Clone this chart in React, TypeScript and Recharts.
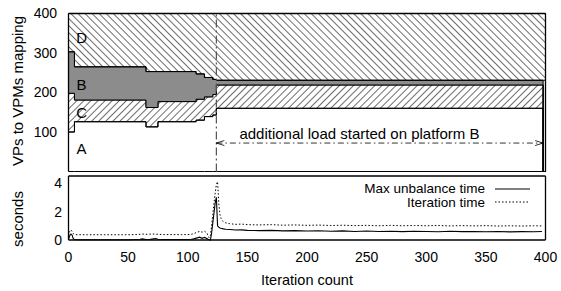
import React from 'react';
import {
  ComposedChart,
  LineChart,
  Area,
  Line,
  XAxis,
  YAxis,
  ReferenceLine,
  ReferenceDot,
  Legend,
} from 'recharts';

const FONT = '"Liberation Sans", Arial, Helvetica, sans-serif';

// ---------- Top panel: VP -> VPM mapping (boundaries between regions, step changes) ----------
const mapIter = [0, 5, 65, 75, 107, 114, 121, 124, 398, 400];
const aTop = [100, 126, 113, 126, 130, 139, 143, 160, 0, 0];
const cTop = [198, 181, 162, 177, 183, 189, 195, 219, 0, 0];
const bTop = [303, 265, 253, 253, 247, 238, 233, 231, 0, 0];
const dBottom = [303, 265, 253, 253, 247, 238, 233, 231, 231, 231];
const mapMax = 400;
const mapTicks = [50, 100, 150, 200, 250, 300, 350, 400];

const regionLabels = [
  { name: 'D', iter: 11, value: 338 },
  { name: 'B', iter: 11, value: 219 },
  { name: 'C', iter: 11, value: 148 },
  { name: 'A', iter: 11, value: 57 },
];

const loadStartIter = 124;
const loadEndIter = 398;
const arrowLevel = 72;
const annotation = 'additional load started on platform B';

// ---------- Bottom panel: times in seconds ----------
const timeIter = [
  0, 1, 2, 3, 4, 5, 8, 12, 16, 20, 25, 30, 35, 40, 45, 50, 55, 60, 62, 65, 68, 70, 73, 75, 78, 80,
  85, 90, 95, 100, 103, 105, 108, 110, 112, 114, 116, 117, 118, 119, 120, 121, 122, 123, 124, 125,
  126, 127, 128, 129, 130, 132, 135, 138, 140, 145, 150, 160, 170, 180, 190, 200, 210, 220, 230,
  240, 250, 260, 270, 280, 290, 300, 310, 320, 330, 340, 350, 360, 370, 380, 390, 397,
];
const maxUnbalance = [
  0.05, 0.3, 0.42, 0.35, 0.1, 0.03, 0.02, 0.02, 0.02, 0.02, 0.02, 0.02, 0.02, 0.02, 0.02, 0.02, 0.03,
  0.05, 0.08, 0.04, 0.03, 0.06, 0.1, 0.05, 0.03, 0.03, 0.04, 0.03, 0.03, 0.04, 0.05, 0.08, 0.15, 0.2,
  0.12, 0.18, 0.1, 0.05, 0.02, 0.0, 0.5, 1.2, 1.9, 2.6, 3.0, 1.0, 0.9, 0.85, 0.82, 0.8, 0.78, 0.76,
  0.74, 0.72, 0.7, 0.71, 0.68, 0.66, 0.68, 0.64, 0.66, 0.63, 0.65, 0.62, 0.64, 0.6, 0.63, 0.6, 0.62,
  0.59, 0.61, 0.6, 0.58, 0.61, 0.59, 0.6, 0.58, 0.6, 0.57, 0.59, 0.58, 0.6,
];
const iterationTime = [
  0.3, 0.6, 0.72, 0.6, 0.45, 0.38, 0.37, 0.37, 0.37, 0.37, 0.37, 0.37, 0.37, 0.37, 0.37, 0.37, 0.38,
  0.4, 0.42, 0.4, 0.41, 0.42, 0.41, 0.4, 0.39, 0.38, 0.38, 0.38, 0.38, 0.38, 0.4, 0.45, 0.55, 0.6,
  0.55, 0.62, 0.5, 0.3, 0.15, 0.3, 1.0, 1.8, 2.6, 3.3, 3.9, 4.1, 2.6, 1.8, 1.5, 1.35, 1.28, 1.2,
  1.15, 1.12, 1.1, 1.12, 1.08, 1.06, 1.08, 1.04, 1.06, 1.03, 1.05, 1.02, 1.04, 1.01, 1.03, 1.0,
  1.03, 1.0, 1.02, 1.0, 1.02, 0.99, 1.01, 0.99, 1.01, 0.98, 1.0, 0.98, 1.0, 0.99,
];
const timeTicks = [0, 1, 2, 3, 4];
const iterTicks = [0, 50, 100, 150, 200, 250, 300, 350, 400];

const seriesDefs = [
  { key: 'maxUnbalance', name: 'Max unbalance time', dash: undefined as string | undefined, width: 1.1 },
  { key: 'iterationTime', name: 'Iteration time', dash: '1.5 2', width: 1 },
];

const topData = mapIter.map((it, i) => ({
  iter: it,
  a: [0, aTop[i]],
  c: [aTop[i], cTop[i]],
  b: [cTop[i], bTop[i]],
  d: [dBottom[i], mapMax],
}));

const bottomData = timeIter.map((it, i) => ({
  iter: it,
  maxUnbalance: maxUnbalance[i],
  iterationTime: iterationTime[i],
}));

const frameLine = { stroke: '#000', strokeWidth: 1.3 };
const tickFont = { fontSize: 14, fill: '#000', fontFamily: FONT };

const LegendBox = () => (
  <svg width={200} height={32} style={{ display: 'block', overflow: 'visible' }}>
    {seriesDefs.map((s, i) => (
      <g key={s.key}>
        <text
          x={145}
          y={13 + i * 14}
          textAnchor="end"
          fontSize={13.5}
          fontFamily={FONT}
          fill="#000"
        >
          {s.name}
        </text>
        <line
          x1={155}
          x2={190}
          y1={9 + i * 13}
          y2={9 + i * 13}
          stroke="#000"
          strokeWidth={s.width}
          strokeDasharray={s.dash}
        />
      </g>
    ))}
  </svg>
);

export default function App() {
  return (
    <div
      style={{
        position: 'absolute',
        left: 0,
        top: 0,
        width: 561,
        height: 291,
        background: '#fff',
        fontFamily: FONT,
      }}
    >
      <div style={{ position: 'absolute', left: 0, top: 0 }}>
        <ComposedChart
          width={561}
          height={175}
          data={topData}
          margin={{ top: 13.5, right: 15.5, bottom: 3.5, left: 0 }}
        >
          <defs>
            <pattern
              id="hatchD"
              patternUnits="userSpaceOnUse"
              width={5}
              height={5}
              patternTransform="rotate(-45)"
            >
              <line x1={0} y1={0} x2={0} y2={5} stroke="#000" strokeWidth={1.15} />
            </pattern>
            <pattern
              id="hatchC"
              patternUnits="userSpaceOnUse"
              width={5}
              height={5}
              patternTransform="rotate(45)"
            >
              <line x1={0} y1={0} x2={0} y2={5} stroke="#000" strokeWidth={1.15} />
            </pattern>
            <marker
              id="arr"
              markerWidth={10}
              markerHeight={8}
              refX={9}
              refY={4}
              orient="auto-start-reverse"
              markerUnits="userSpaceOnUse"
            >
              <path d="M1,1.5 L9,4 L1,6.5" fill="none" stroke="#000" strokeWidth={0.8} strokeDasharray="none" />
            </marker>
          </defs>
          <XAxis
            dataKey="iter"
            type="number"
            domain={[0, 400]}
            height={0}
            tick={false}
            tickLine={false}
            axisLine={frameLine}
          />
          <XAxis
            xAxisId="top"
            orientation="top"
            mirror
            type="number"
            domain={[0, 400]}
            tick={false}
            tickLine={false}
            axisLine={frameLine}
          />
          <YAxis
            type="number"
            domain={[0, mapMax]}
            ticks={mapTicks}
            width={68.5}
            tickLine={false}
            tickSize={6}
            tickMargin={5.5}
            tick={tickFont}
            axisLine={frameLine}
            label={{
              content: () => (
                <text
                  x={22.5}
                  y={91}
                  transform="rotate(-90 22.5 91)"
                  textAnchor="middle"
                  fontSize={15}
                  fontFamily={FONT}
                  fill="#000"
                >
                  VPs to VPMs mapping
                </text>
              ),
            }}
          />
          <YAxis
            yAxisId="r"
            orientation="right"
            mirror
            type="number"
            domain={[0, mapMax]}
            tick={false}
            tickLine={false}
            axisLine={frameLine}
          />
          <Area
            type="stepAfter"
            dataKey="a"
            fill="none"
            stroke="#000"
            strokeWidth={1}
            isAnimationActive={false}
          />
          <Area
            type="stepAfter"
            dataKey="c"
            fill="url(#hatchC)"
            fillOpacity={1}
            stroke="#000"
            strokeWidth={1}
            isAnimationActive={false}
          />
          <Area
            type="stepAfter"
            dataKey="b"
            fill="#8c8c8c"
            fillOpacity={1}
            stroke="#000"
            strokeWidth={1}
            isAnimationActive={false}
          />
          <Area
            type="stepAfter"
            dataKey="d"
            fill="url(#hatchD)"
            fillOpacity={1}
            stroke="#000"
            strokeWidth={1}
            isAnimationActive={false}
          />
          <ReferenceLine
            x={loadStartIter}
            stroke="#555"
            strokeWidth={1.2}
            strokeDasharray="8 3 2 3"
          />
          <ReferenceLine
            segment={[
              { x: loadStartIter, y: arrowLevel },
              { x: loadEndIter, y: arrowLevel },
            ]}
            stroke="#000"
            strokeWidth={0.8}
            strokeDasharray="6 3 1.5 3"
            markerStart="url(#arr)"
            markerEnd="url(#arr)"
          />
          <ReferenceDot
            x={244}
            y={97}
            r={0}
            fill="none"
            stroke="none"
            label={{ value: annotation, position: 'center', fontSize: 15, fill: '#000', fontFamily: FONT }}
          />
          {regionLabels.map((l) => (
            <ReferenceDot
              key={l.name}
              x={l.iter}
              y={l.value}
              r={0}
              fill="none"
              stroke="none"
              label={{ value: l.name, position: 'center', fontSize: 15, fill: '#000', fontFamily: FONT }}
            />
          ))}
        </ComposedChart>
      </div>
      <div style={{ position: 'absolute', left: 0, top: 172 }}>
        <LineChart
          width={561}
          height={119}
          data={bottomData}
          margin={{ top: 4, right: 15.5, bottom: 21, left: 0 }}
        >
          <XAxis
            dataKey="iter"
            type="number"
            domain={[0, 400]}
            ticks={iterTicks}
            height={30}
            tickLine={false}
            tickSize={6}
            tickMargin={6.5}
            tick={tickFont}
            axisLine={frameLine}
            label={{
              content: () => (
                <text x={307} y={113} textAnchor="middle" fontSize={14.5} fontFamily={FONT} fill="#000">
                  Iteration count
                </text>
              ),
            }}
          />
          <XAxis
            xAxisId="bm"
            orientation="bottom"
            mirror
            type="number"
            domain={[0, 400]}
            ticks={iterTicks}
            tick={false}
            tickSize={5}
            tickLine={{ stroke: '#000' }}
            axisLine={false}
          />
          <XAxis
            xAxisId="top"
            orientation="top"
            mirror
            type="number"
            domain={[0, 400]}
            ticks={iterTicks}
            tick={false}
            tickSize={5}
            tickLine={{ stroke: '#000' }}
            axisLine={frameLine}
          />
          <YAxis
            type="number"
            domain={[0, 4.5]}
            ticks={timeTicks}
            width={68.5}
            tickLine={false}
            tickSize={6}
            tickMargin={0.5}
            tick={tickFont}
            axisLine={frameLine}
            label={{
              content: () => (
                <text
                  x={22.5}
                  y={47}
                  transform="rotate(-90 22.5 47)"
                  textAnchor="middle"
                  fontSize={15}
                  fontFamily={FONT}
                  fill="#000"
                >
                  seconds
                </text>
              ),
            }}
          />
          <YAxis
            yAxisId="lm"
            orientation="left"
            mirror
            type="number"
            domain={[0, 4.5]}
            ticks={timeTicks}
            tick={false}
            tickSize={5}
            tickLine={{ stroke: '#000' }}
            axisLine={false}
          />
          <YAxis
            yAxisId="r"
            orientation="right"
            mirror
            type="number"
            domain={[0, 4.5]}
            ticks={timeTicks}
            tick={false}
            tickSize={5}
            tickLine={{ stroke: '#000' }}
            axisLine={frameLine}
          />
          {seriesDefs.map((s) => (
            <Line
              key={s.key}
              type="linear"
              dataKey={s.key}
              name={s.name}
              stroke="#000"
              strokeWidth={s.width}
              strokeDasharray={s.dash}
              dot={false}
              activeDot={false}
              isAnimationActive={false}
            />
          ))}
          <Legend
            layout="vertical"
            align="center"
            verticalAlign="middle"
            wrapperStyle={{ top: 8, left: 340, width: 200, height: 32 }}
            content={() => <LegendBox />}
          />
        </LineChart>
      </div>
    </div>
  );
}
